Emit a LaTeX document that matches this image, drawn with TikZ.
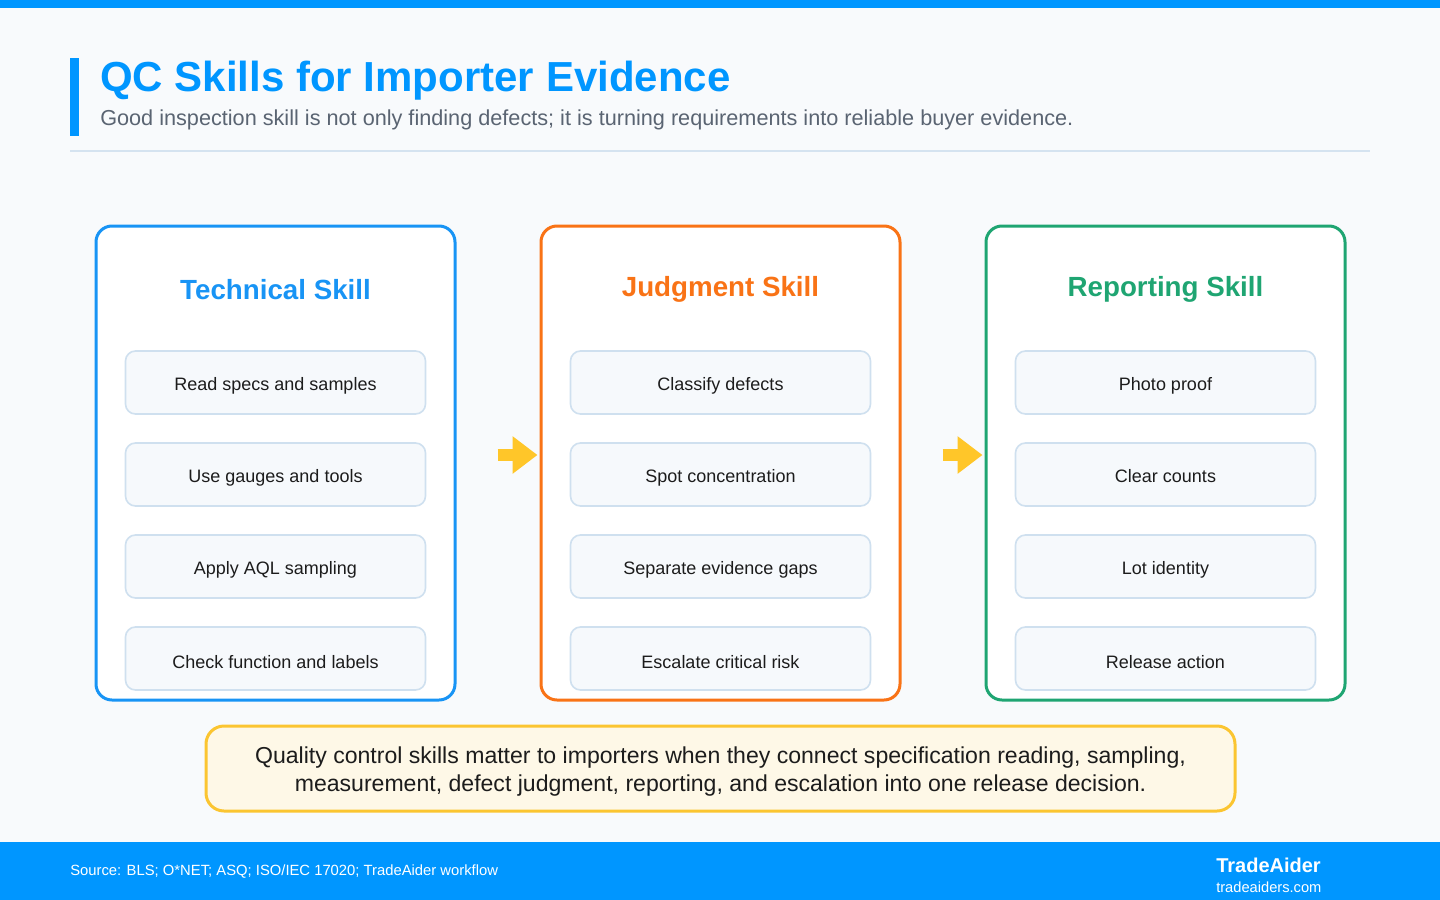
\documentclass[tikz,border=0pt]{standalone}
\usepackage{fontspec}
\setmainfont{Liberation Sans}
\usetikzlibrary{arrows.meta,calc}
\definecolor{bg}{HTML}{F8FAFC}
\definecolor{brand}{HTML}{0096FF}
\definecolor{subgray}{HTML}{5A6472}
\definecolor{divider}{HTML}{D5E3F0}
\definecolor{cblue}{HTML}{1894F5}
\definecolor{corange}{HTML}{F97316}
\definecolor{cgreen}{HTML}{1FA572}
\definecolor{itemfill}{HTML}{F6F9FC}
\definecolor{itemline}{HTML}{CFE0EF}
\definecolor{arrowy}{HTML}{FFC629}
\definecolor{notefill}{HTML}{FEF8E7}
\definecolor{noteline}{HTML}{FBC531}
\definecolor{ink}{HTML}{1C1C1C}
\tikzset{
  colbox/.style={rectangle, rounded corners=12pt, line width=2.25pt, fill=white,
    minimum width=269.25pt, minimum height=355.5pt, inner sep=0pt},
  coltitle/.style={font=\fontsize{20.8}{24}\selectfont\bfseries, anchor=base, inner sep=0pt},
  item/.style={rectangle, rounded corners=7.5pt, line width=1.2pt, draw=itemline, fill=itemfill,
    minimum width=225pt, minimum height=47.25pt, inner sep=0pt, text=ink,
    text height=12pt, text depth=0pt,
    font=\fontsize{13.5}{16}\selectfont},
  itemlow/.style={item, text height=15pt},
  flowarrow/.style={draw=arrowy, line width=9pt, -{Triangle[length=18.75pt,width=27pt]}},
}
\begin{document}
\begin{tikzpicture}[x=0.75pt,y=-0.75pt]
\useasboundingbox (0,0) rectangle (1440,900);
\fill[bg] (0,0) rectangle (1440,900);
\fill[brand] (0,0) rectangle (1440,8);
\fill[brand] (70,58) rectangle (79,136);
\node[anchor=base west, inner sep=0pt, text=brand, font=\fontsize{31.5}{36}\selectfont\bfseries] (title) at (100,91) {QC Skills for Importer Evidence};
\node[anchor=base west, inner sep=0pt, text=subgray, font=\fontsize{16.25}{19}\selectfont] (subtitle) at (100,125) {Good inspection skill is not only finding defects; it is turning requirements into reliable buyer evidence.};
\draw[divider, line width=1.5pt] (70,151) -- (1370,151);

% columns
\node[colbox, draw=cblue] (c1) at (275.5,463) {};
\node[colbox, draw=corange] (c2) at (720.5,463) {};
\node[colbox, draw=cgreen] (c3) at (1165.5,463) {};

\node[coltitle, text=cblue] (t1) at (275.5,299) {Technical Skill};
\node[coltitle, text=corange] (t2) at (720.5,296) {Judgment Skill};
\node[coltitle, text=cgreen] (t3) at (1165.5,296) {Reporting Skill};

\node[item] (a1) at (275.5,382.5) {Read specs and samples};
\node[item] (a2) at (275.5,474.5) {Use gauges and tools};
\node[item] (a3) at (275.5,566.5) {Apply AQL sampling};
\node[itemlow] (a4) at (275.5,658.5) {Check function and labels};

\node[item] (b1) at (720.5,382.5) {Classify defects};
\node[item] (b2) at (720.5,474.5) {Spot concentration};
\node[item] (b3) at (720.5,566.5) {Separate evidence gaps};
\node[itemlow] (b4) at (720.5,658.5) {Escalate critical risk};

\node[item] (d1) at (1165.5,382.5) {Photo proof};
\node[item] (d2) at (1165.5,474.5) {Clear counts};
\node[item] (d3) at (1165.5,566.5) {Lot identity};
\node[itemlow] (d4) at (1165.5,658.5) {Release action};

% arrows
\draw[flowarrow] ($(c1.east)+(41,-8)$) -- ($(c2.west)+(-2,-8)$);
\draw[flowarrow] ($(c2.east)+(41,-8)$) -- ($(c3.west)+(-2,-8)$);

% note
\node[rectangle, rounded corners=13.5pt, line width=2.25pt, draw=noteline, fill=notefill,
  minimum width=771.75pt, minimum height=63.75pt, inner sep=0pt] (note) at (720.5,768.5) {};
\node[inner sep=0pt, text=ink, align=center, font=\fontsize{17.3}{21}\selectfont] (notetext)
  at ($(note.center)+(0,3.5)$)
  {Quality control skills matter to importers when they connect specification reading, sampling,\\measurement, defect judgment, reporting, and escalation into one release decision.};

% footer
\fill[brand] (0,842) rectangle (1440,900);
\node[anchor=west, inner sep=0pt, text=white, font=\fontsize{11.1}{13}\selectfont] (src) at (70,872) {Source: BLS; O*NET; ASQ; ISO/IEC 17020; TradeAider workflow};
\node[anchor=west, inner sep=0pt, text=white, font=\fontsize{15}{18}\selectfont\bfseries] (brandname) at (1216,865) {TradeAider};
\node[anchor=west, inner sep=0pt, text=white, font=\fontsize{11}{13}\selectfont] (site) at (1216,887) {tradeaiders.com};
\end{tikzpicture}
\end{document}
